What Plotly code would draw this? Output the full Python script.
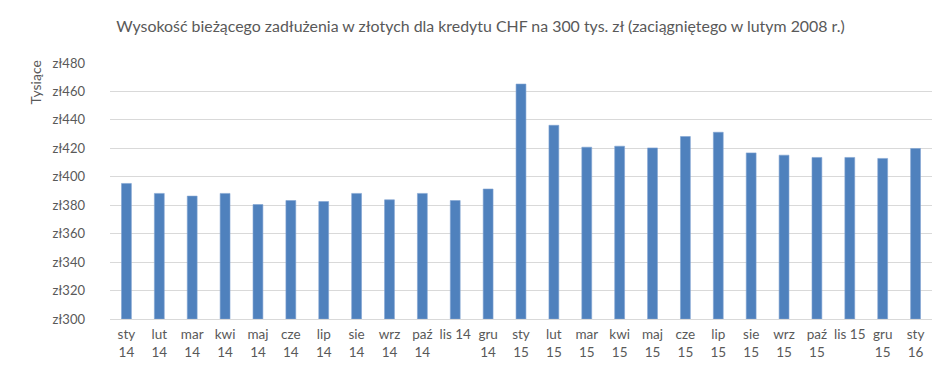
import plotly.graph_objects as go

categories = ["sty<br>14", "lut<br>14", "mar<br>14", "kwi<br>14", "maj<br>14", "cze<br>14",
              "lip<br>14", "sie<br>14", "wrz<br>14", "paź<br>14", "lis 14", "gru<br>14",
              "sty<br>15", "lut<br>15", "mar<br>15", "kwi<br>15", "maj<br>15", "cze<br>15",
              "lip<br>15", "sie<br>15", "wrz<br>15", "paź<br>15", "lis 15", "gru<br>15",
              "sty<br>16"]
values = [395.3, 388.3, 386.4, 388.3, 380.5, 383.3, 382.6, 388.3, 383.8, 388.3, 383.3, 391.4,
          465.2, 436.2, 420.8, 421.5, 420.3, 428.3, 431.3, 416.8, 415.2, 413.6, 413.6, 412.9,
          419.9]
y_ticks = [300, 320, 340, 360, 380, 400, 420, 440, 460, 480]
title_text = "Wysokość bieżącego zadłużenia w złotych dla kredytu CHF na 300 tys. zł (zaciągniętego w lutym 2008 r.)"
unit_label = "Tysiące"

FONT = "Lato"
GREY = "#595959"

fig = go.Figure(go.Bar(
    x=list(range(len(categories))),
    y=[v - 300 for v in values],
    base=300,
    marker=dict(color="#4F81BD", line=dict(color="#7FA3D1", width=0.6)),
    width=0.3,
))

fig.update_layout(
    width=945, height=370,
    margin=dict(l=101.5, r=20.5, t=55, b=59),
    paper_bgcolor="white", plot_bgcolor="white",
    showlegend=False,
    font=dict(family=FONT, color=GREY, size=13),
    title=dict(text=title_text, x=0.5, xanchor="center", y=1 - 18 / 370, yanchor="middle",
               font=dict(family=FONT, size=15.9, color=GREY)),
    xaxis=dict(
        tickmode="array", tickvals=list(range(len(categories))), ticktext=categories,
        range=[-0.5, len(categories) - 0.5],
        showline=True, linecolor="#D9D9D9", linewidth=1,
        showgrid=False, zeroline=False, ticks="", tickangle=0,
        ticklabelstandoff=3,
        tickfont=dict(family=FONT, size=13.5, color=GREY),
    ),
    yaxis=dict(
        range=[300, 480], tickmode="array", tickvals=y_ticks,
        ticktext=["zł%d" % t for t in y_ticks],
        showgrid=True, gridcolor="#D9D9D9", gridwidth=1,
        zeroline=False, showline=False, ticks="",
        ticklabelstandoff=24,
        tickfont=dict(family=FONT, size=13, color=GREY),
    ),
    annotations=[dict(text=unit_label, xref="paper", yref="paper",
                      x=(-101.5 + 26) / 823, y=1 - (75 - 55) / 256,
                      xanchor="center", yanchor="middle", showarrow=False, textangle=-90,
                      font=dict(family=FONT, size=14, color=GREY))],
)

fig.write_html("out.html")
